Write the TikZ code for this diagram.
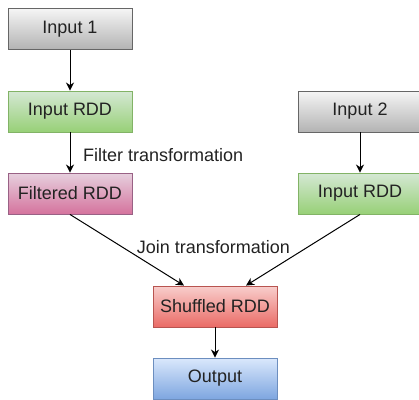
\documentclass[tikz,border=0pt]{standalone}
\usepackage{fontspec}
\setmainfont{Liberation Sans}
\usetikzlibrary{arrows.meta}

\definecolor{grayTop}{HTML}{F5F5F5}
\definecolor{grayBot}{HTML}{B3B3B3}
\definecolor{grayLine}{HTML}{666666}
\definecolor{greenTop}{HTML}{D5E8D4}
\definecolor{greenBot}{HTML}{97D077}
\definecolor{greenLine}{HTML}{82B366}
\definecolor{pinkTop}{HTML}{E6D0DE}
\definecolor{pinkBot}{HTML}{D5739D}
\definecolor{pinkLine}{HTML}{996185}
\definecolor{redTop}{HTML}{F8CECC}
\definecolor{redBot}{HTML}{EA6B66}
\definecolor{redLine}{HTML}{B85450}
\definecolor{blueTop}{HTML}{DAE8FC}
\definecolor{blueBot}{HTML}{7EA6E0}
\definecolor{blueLine}{HTML}{6C8EBF}
\definecolor{txt}{HTML}{222222}

\tikzset{
  box/.style={rectangle, minimum width=124pt, minimum height=41pt, line width=0.9pt,
    font=\fontsize{18}{21}\selectfont, text=txt, inner sep=0pt},
  grayBox/.style={box, draw=grayLine, top color=grayTop, bottom color=grayBot},
  greenBox/.style={box, draw=greenLine, top color=greenTop, bottom color=greenBot},
  pinkBox/.style={box, draw=pinkLine, top color=pinkTop, bottom color=pinkBot},
  redBox/.style={box, draw=redLine, top color=redTop, bottom color=redBot},
  blueBox/.style={box, draw=blueLine, top color=blueTop, bottom color=blueBot},
  flow/.style={line width=1pt, draw=black, -{Stealth[length=8pt, width=8pt, inset=2.5pt]}},
  edgeLabel/.style={font=\fontsize{18}{21}\selectfont, text=txt, inner sep=0pt}
}

\begin{document}
\begin{tikzpicture}[x=1pt, y=-1pt]
  \useasboundingbox (0,0) rectangle (419,399);
  \clip (0,0) rectangle (419,399);

  % left branch
  \node[grayBox]  (in1)  at (70,29)    {Input 1};
  \node[greenBox] (rdd1) at (70,111.5) {Input RDD};
  \node[pinkBox]  (filt) at (70,193.5) {Filtered RDD};

  % right branch
  \node[grayBox]  (in2)  at (360,111.5) {Input 2};
  \node[greenBox] (rdd2) at (360,193.5) {Input RDD};

  % join and result
  \node[redBox]   (shuf) at (215,306.5) {Shuffled RDD};
  \node[blueBox]  (out)  at (215,378.5) {Output};

  \coordinate (shufL) at ([xshift=-31pt]shuf.north);
  \coordinate (shufR) at ([xshift=31pt]shuf.north);

  \draw[flow] (in1) -- (rdd1);
  \draw[flow] (rdd1) -- (filt);
  \draw[flow] (in2) -- (rdd2);
  \draw[flow] (filt.south) -- (shufL);
  \draw[flow] (rdd2.south) -- (shufR);
  \draw[flow] (shuf) -- (out);

  \node[edgeLabel, anchor=west] (lblFilter) at (83,155) {Filter transformation};
  \node[edgeLabel] (lblJoin) at (213.5,247.5) {Join transformation};
\end{tikzpicture}
\end{document}
